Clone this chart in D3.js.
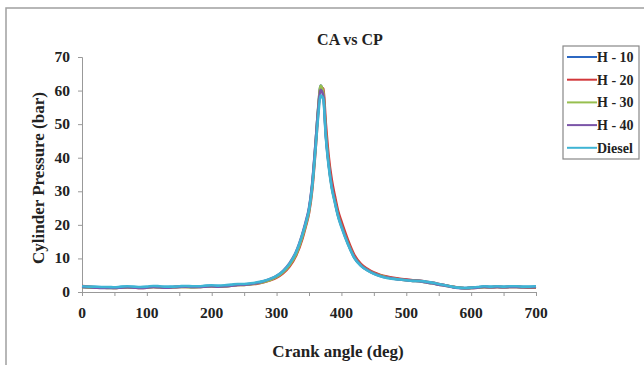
<!DOCTYPE html>
<html>
<head>
<meta charset="utf-8">
<script src="https://cdn.jsdelivr.net/npm/d3@7"></script>
<style>
  body { margin: 0; background: #fff; }
  svg { display: block; }
  text { font-family: "Liberation Serif", "Times New Roman", serif; font-weight: bold; fill: #222; }
</style>
</head>
<body>
<div id="chart"></div>
<script>
// crank angle (deg)
const crankAngle = [0,10,20,30,40,50,60,70,80,90,100,110,120,130,140,150,160,170,180,190,
  200,210,220,230,240,250,260,270,280,290,300,310,320,330,340,
  345,350,355,360,364,368,372,376,380,385,390,395,
  400,410,420,430,440,450,460,470,480,490,500,510,520,530,540,550,560,570,580,590,
  600,610,620,630,640,650,660,670,680,690,700];

const h10 = [1.6,1.5,1.4,1.4,1.3,1.3,1.4,1.5,1.4,1.3,1.4,1.6,1.5,1.4,1.5,1.6,1.6,1.5,1.6,1.7,
  1.8,1.7,1.8,2.0,2.2,2.2,2.4,2.7,3.1,3.7,4.6,6.0,8.2,11.5,17.0,
  20.5,24.5,32.0,44.0,54.0,61.5,59.5,47.0,39.0,32.0,27.5,23.0,
  20.0,14.8,10.2,8.0,6.6,5.6,4.9,4.4,4.1,3.8,3.6,3.4,3.3,3.0,2.7,2.3,2.0,1.6,1.3,1.2,
  1.3,1.4,1.6,1.5,1.6,1.5,1.6,1.6,1.5,1.5,1.6];

const h20 = [1.8,1.6,1.4,1.3,1.3,1.2,1.3,1.4,1.3,1.2,1.3,1.5,1.4,1.3,1.4,1.5,1.5,1.5,1.5,1.6,
  1.7,1.6,1.7,1.9,2.1,2.1,2.3,2.5,2.9,3.5,4.3,5.6,7.6,10.8,16.0,
  19.5,23.5,30.5,42.0,53.0,61.0,60.5,50.0,41.0,33.5,28.5,24.0,
  21.0,15.5,11.0,8.4,6.9,5.8,5.1,4.6,4.2,3.9,3.7,3.5,3.4,3.1,2.8,2.4,2.0,1.6,1.3,1.1,
  1.2,1.3,1.5,1.4,1.5,1.4,1.5,1.5,1.4,1.3,1.3];

const h30 = [1.4,1.3,1.3,1.3,1.2,1.2,1.3,1.4,1.3,1.3,1.3,1.5,1.4,1.4,1.4,1.5,1.5,1.4,1.5,1.6,
  1.7,1.6,1.7,1.9,2.1,2.1,2.3,2.6,3.0,3.6,4.5,5.9,8.0,11.2,16.6,
  20.0,24.0,31.5,43.5,54.5,61.5,59.5,47.5,39.0,31.5,27.0,22.8,
  19.8,14.6,10.4,8.0,6.6,5.6,4.9,4.4,4.0,3.7,3.5,3.3,3.2,2.9,2.6,2.2,1.9,1.6,1.3,1.1,
  1.2,1.3,1.4,1.4,1.5,1.4,1.5,1.5,1.4,1.4,1.4];

const h40 = [1.5,1.4,1.3,1.2,1.2,1.2,1.3,1.4,1.3,1.2,1.3,1.5,1.4,1.3,1.4,1.5,1.6,1.5,1.5,1.6,
  1.7,1.6,1.7,1.9,2.1,2.2,2.4,2.7,3.2,3.9,4.8,6.3,8.6,12.0,17.5,
  21.0,25.0,32.5,44.0,54.0,60.2,58.5,46.5,38.5,31.5,26.8,22.6,
  19.6,14.4,10.3,7.9,6.5,5.5,4.8,4.3,4.0,3.7,3.5,3.3,3.2,2.9,2.6,2.2,1.9,1.5,1.2,1.1,
  1.2,1.3,1.5,1.4,1.5,1.4,1.5,1.5,1.4,1.4,1.5];

const diesel = [1.7,1.6,1.6,1.5,1.5,1.4,1.6,1.7,1.6,1.5,1.6,1.8,1.7,1.6,1.6,1.7,1.8,1.7,1.7,1.9,
  2.0,1.9,2.0,2.2,2.4,2.4,2.6,2.9,3.3,3.9,4.8,6.2,8.4,11.8,17.2,
  20.5,24.5,31.5,42.5,52.0,58.5,57.5,46.0,38.0,31.0,26.5,22.4,
  19.3,14.2,10.1,7.8,6.4,5.4,4.7,4.2,3.9,3.7,3.5,3.3,3.3,3.1,2.8,2.4,2.0,1.6,1.3,1.2,
  1.3,1.5,1.7,1.6,1.7,1.6,1.7,1.7,1.6,1.6,1.7];

const seriesNames = ["H - 10", "H - 20", "H - 30", "H - 40", "Diesel"];
const seriesValues = [h10, h20, h30, h40, diesel];
const seriesColors = ["#2c68c2", "#d2373a", "#97bf4f", "#7b55a8", "#3fb4d4"];

const xTicks = [0, 100, 200, 300, 400, 500, 600, 700];
const yTicks = [0, 10, 20, 30, 40, 50, 60, 70];

const width = 644, height = 365;
const margin = { left: 82, right: 108, top: 57, bottom: 73 };

const svg = d3.select("#chart").append("svg")
  .attr("width", width)
  .attr("height", height);

// outer frame
svg.append("rect")
  .attr("x", 6).attr("y", 8)
  .attr("width", 660).attr("height", 380)
  .attr("fill", "none")
  .attr("stroke", "#a0a0a0")
  .attr("stroke-width", 1.5);

const x = d3.scaleLinear().domain([0, 700]).range([margin.left, width - margin.right]);
const y = d3.scaleLinear().domain([0, 70]).range([height - margin.bottom, margin.top]);

// x axis
const xAxis = svg.append("g")
  .attr("transform", "translate(0," + y(0) + ")")
  .call(d3.axisBottom(x).tickValues(d3.range(0, 701, 50)).tickSize(4).tickFormat(""));
xAxis.select(".domain").attr("stroke", "#999");
xAxis.selectAll(".tick line").attr("stroke", "#999");

svg.append("g").selectAll("text")
  .data(xTicks)
  .enter()
  .append("text")
  .attr("x", d => x(d))
  .attr("y", y(0) + 26)
  .attr("text-anchor", "middle")
  .style("font-size", "15.5px")
  .text(d => d);

// y axis
const yAxis = svg.append("g")
  .attr("transform", "translate(" + x(0) + ",0)")
  .call(d3.axisLeft(y).tickValues(yTicks).tickSize(4).tickFormat(""));
yAxis.select(".domain").attr("stroke", "#999");
yAxis.selectAll(".tick line").attr("stroke", "#999");

svg.append("g").selectAll("text")
  .data(yTicks)
  .enter()
  .append("text")
  .attr("x", x(0) - 12)
  .attr("y", d => y(d) + 5)
  .attr("text-anchor", "end")
  .style("font-size", "15.5px")
  .text(d => d);

// lines
const line = d3.line()
  .x((d, i) => x(crankAngle[i]))
  .y(d => y(d))
  .curve(d3.curveMonotoneX);

svg.append("g").selectAll("path")
  .data(seriesValues)
  .enter()
  .append("path")
  .attr("d", d => line(d))
  .attr("fill", "none")
  .attr("stroke", (d, i) => seriesColors[i])
  .attr("stroke-width", 2.6)
  .attr("stroke-linejoin", "round");

// titles
svg.append("text")
  .attr("x", 350).attr("y", 45)
  .attr("text-anchor", "middle")
  .style("font-size", "16px")
  .text("CA vs CP");

svg.append("text")
  .attr("x", 338).attr("y", 357)
  .attr("text-anchor", "middle")
  .style("font-size", "17px")
  .text("Crank angle (deg)");

svg.append("text")
  .attr("transform", "translate(44,178) rotate(-90)")
  .attr("text-anchor", "middle")
  .style("font-size", "17px")
  .text("Cylinder Pressure (bar)");

// legend
const legend = svg.append("g");
legend.append("rect")
  .attr("x", 563).attr("y", 46)
  .attr("width", 76).attr("height", 113)
  .attr("fill", "#fff")
  .attr("stroke", "#888")
  .attr("stroke-width", 1.2);

const items = legend.selectAll(".item")
  .data(seriesNames)
  .enter()
  .append("g")
  .attr("class", "item")
  .attr("transform", (d, i) => "translate(0," + (57 + i * 22.7) + ")");

items.append("line")
  .attr("x1", 567).attr("x2", 597)
  .attr("y1", 0).attr("y2", 0)
  .attr("stroke", (d, i) => seriesColors[i])
  .attr("stroke-width", 2);

items.append("text")
  .attr("x", 597)
  .attr("y", 5)
  .style("font-size", "14px")
  .text(d => d);
</script>
</body>
</html>
